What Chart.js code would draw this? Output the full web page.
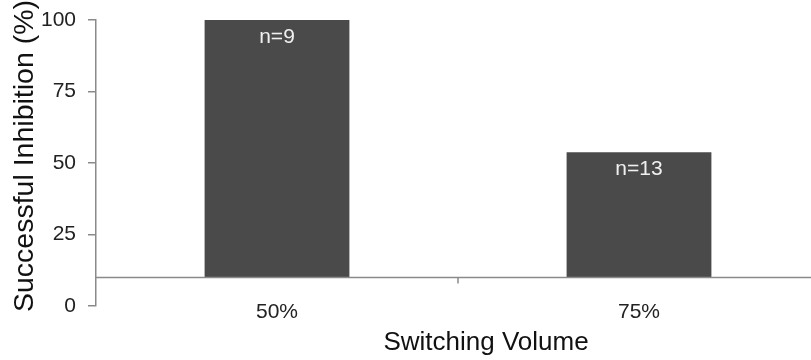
<!DOCTYPE html>
<html>
<head>
<meta charset="utf-8">
<script src="https://cdn.jsdelivr.net/npm/chart.js@4.4.1/dist/chart.umd.min.js"></script>
<style>
  html, body { margin: 0; padding: 0; background: #fff; overflow: hidden; }
  #wrap { width: 811px; height: 360px; overflow: hidden; }
</style>
</head>
<body>
<div id="wrap"><canvas id="chart" width="820" height="360"></canvas></div>
<script>
// data
const categories = ['50%', '75%'];
const inhibition = [100, 53.8];
const sampleSizes = [9, 13];
const yTicks = [0, 25, 50, 75, 100];
const axisCross = 10;   // value where the category axis line sits
const yTitle = 'Successful Inhibition (%)';
const xTitle = 'Switching Volume';

const FONT = "'Liberation Sans', Arial, sans-serif";
const AXIS_GRAY = '#8a8a8a';

// crossing axis line, middle tick, category labels, n= labels and the axis titles
const extras = {
  id: 'extras',
  afterDatasetsDraw(chart) {
    const ctx = chart.ctx;
    const x = chart.scales.x, y = chart.scales.y;
    const yLine = y.getPixelForValue(axisCross);
    ctx.save();
    ctx.strokeStyle = AXIS_GRAY;
    ctx.lineWidth = 1.5;
    ctx.beginPath();
    ctx.moveTo(chart.chartArea.left, yLine);
    ctx.lineTo(chart.width, yLine);
    const mid = (x.getPixelForValue(0) + x.getPixelForValue(1)) / 2;
    ctx.moveTo(mid, yLine);
    ctx.lineTo(mid, yLine + 6);
    ctx.stroke();

    ctx.textAlign = 'center';
    ctx.textBaseline = 'alphabetic';
    ctx.fillStyle = '#222';
    ctx.font = '21px ' + FONT;
    categories.forEach((c, i) => {
      ctx.fillText(c, x.getPixelForValue(i), 318);
    });

    ctx.fillStyle = '#f0f0f0';
    ctx.textBaseline = 'middle';
    chart.getDatasetMeta(0).data.forEach((bar, i) => {
      ctx.fillText('n=' + sampleSizes[i], bar.x, bar.y + 17);
    });

    ctx.fillStyle = '#111';
    ctx.font = '26px ' + FONT;
    ctx.textBaseline = 'alphabetic';
    ctx.fillText(xTitle, mid + 28, 350);

    ctx.font = '28.5px ' + FONT;
    ctx.translate(33, 156);
    ctx.rotate(-Math.PI / 2);
    ctx.fillText(yTitle, 0, 0);
    ctx.restore();
  }
};

new Chart(document.getElementById('chart').getContext('2d'), {
  type: 'bar',
  data: {
    labels: categories,
    datasets: [{
      data: inhibition,
      base: axisCross,
      backgroundColor: '#4a4a4a',
      borderWidth: 0,
      barPercentage: 1,
      categoryPercentage: 0.4
    }]
  },
  options: {
    responsive: false,
    animation: false,
    layout: { padding: { top: 20, right: 0, bottom: 0, left: 0 } },
    plugins: { legend: { display: false }, tooltip: { enabled: false } },
    scales: {
      x: {
        grid: { display: false, drawTicks: false },
        border: { display: false },
        ticks: { display: false },
        afterFit(scale) { scale.height = 54; }
      },
      y: {
        min: 0,
        max: 100,
        afterBuildTicks(scale) { scale.ticks = yTicks.map(v => ({ value: v })); },
        grid: { drawOnChartArea: false, tickLength: 8, color: AXIS_GRAY, lineWidth: 1.5 },
        border: { display: true, color: AXIS_GRAY, width: 1.5 },
        ticks: { color: '#222', font: { family: FONT, size: 21 }, padding: 12 },
        afterFit(scale) { scale.width = 96; scale.paddingTop = 0; scale.paddingBottom = 0; }
      }
    }
  },
  plugins: [extras]
});
</script>
</body>
</html>
